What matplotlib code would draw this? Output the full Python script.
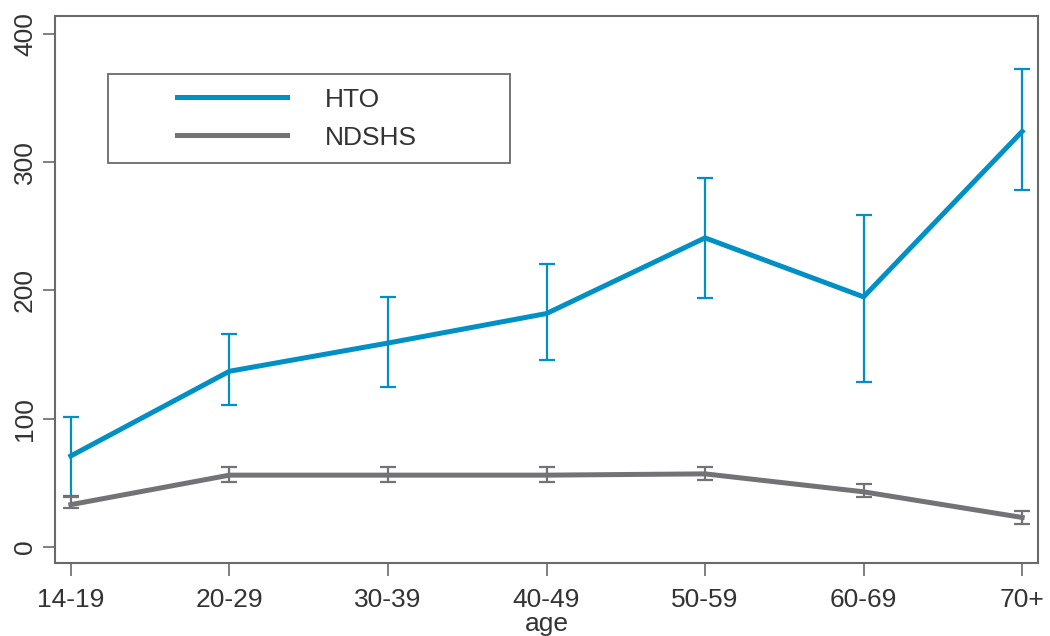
import numpy as np
import matplotlib.pyplot as plt
from matplotlib.patches import Rectangle

#------------------------------- Data -------------------------------
ages = ['14-19', '20-29', '30-39', '40-49', '50-59', '60-69', '70+']

hto_mean = [71, 137, 159, 182, 241, 195, 324]
hto_low = [40, 111, 125, 146, 194, 129, 278]
hto_high = [101, 166, 195, 221, 288, 259, 373]

ndshs_mean = [33, 56, 56, 56, 57, 43, 23]
ndshs_low = [30, 51, 51, 51, 52, 39, 18]
ndshs_high = [39, 62, 62, 62, 62, 49, 28]

#------------------------------ Styles ------------------------------
blue = '#0090c6'
gray = '#737377'
spine_col = '#6a6a6a'

plt.rcParams['font.family'] = ['Liberation Sans', 'DejaVu Sans']

fig = plt.figure(figsize=(10.5, 6.36), dpi=100)
ax = fig.add_axes((55 / 1050, 73 / 636, 983 / 1050, 547 / 636))

x = np.arange(len(ages))


def draw(mean, low, high, color, label):
    mean = np.array(mean)
    yerr = [mean - np.array(low), np.array(high) - mean]
    ax.plot(x, mean, color=color, lw=3.6, label=label, zorder=3,
            solid_joinstyle='miter')
    ax.errorbar(x, mean, yerr=yerr, fmt='none', ecolor=color,
                elinewidth=1.6, capsize=6, capthick=1.6, zorder=4)


draw(hto_mean, hto_low, hto_high, blue, 'HTO')
draw(ndshs_mean, ndshs_low, ndshs_high, gray, 'NDSHS')

ax.set_xlim(-0.1, 6.1)
ax.set_ylim(-12.5, 414)
ax.set_xticks(x)
ax.set_xticklabels(ages)
ax.set_yticks([0, 100, 200, 300, 400])
ax.tick_params(axis='both', labelsize=19, colors='#333333',
               color=spine_col, width=1.2)
ax.tick_params(axis='y', length=9, pad=4)
ax.tick_params(axis='x', length=9, pad=9)
for lbl in ax.get_yticklabels():
    lbl.set_rotation(90)
    lbl.set_va('center')
ax.set_xlabel('age', fontsize=19, color='#333333', labelpad=0)

for s in ax.spines.values():
    s.set_color(spine_col)
    s.set_linewidth(1.5)

# legend box and entries
ax.add_patch(Rectangle((53 / 983, 400 / 547), 402 / 983, 89 / 547,
                       transform=ax.transAxes, fill=False,
                       edgecolor=spine_col, lw=1.3, zorder=5))
ax.legend(loc='upper left', bbox_to_anchor=(122 / 983, 0.869),
          frameon=False, fontsize=19, borderpad=0, borderaxespad=0,
          handlelength=4.17, handletextpad=1.45, labelspacing=0.53)
for t in ax.get_legend().get_texts():
    t.set_color('#333333')

fig.savefig('out.png', dpi=100)
